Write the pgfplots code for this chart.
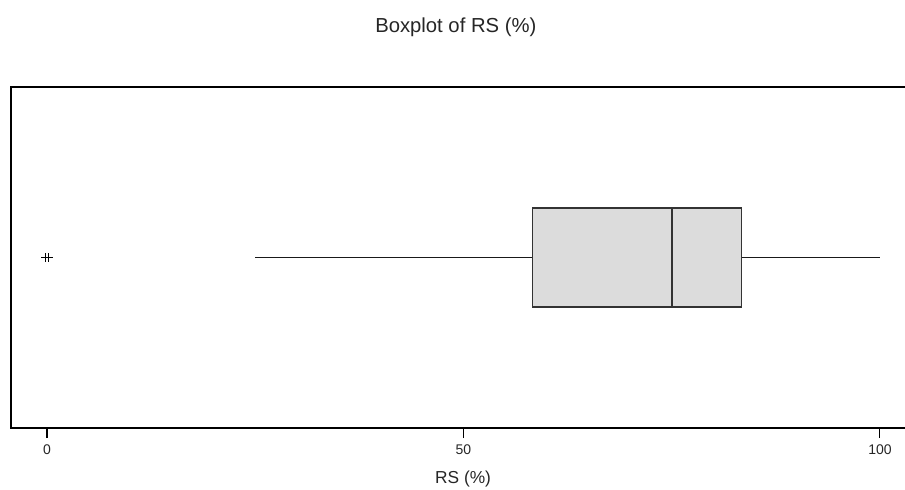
\documentclass[border=0pt]{standalone}
\usepackage{pgfplots}
\pgfplotsset{compat=1.18}
\usepgfplotslibrary{statistics}
\usepackage{fontspec}
\setmainfont{Liberation Sans}
\definecolor{boxfill}{HTML}{DCDCDC}
\definecolor{boxedge}{HTML}{333333}
\begin{document}
\begin{tikzpicture}
\useasboundingbox (0,0) rectangle (678.75pt,366.75pt);
\clip (0,0) rectangle (678.75pt,366.75pt);
\begin{axis}[
  at={(8.25pt,45.75pt)}, anchor=south west,
  scale only axis, width=676.7pt, height=255.75pt,
  xmin=-4.32, xmax=104, ymin=0, ymax=1,
  ytick=\empty,
  xtick={0,50,100},
  tick align=outside,
  xtick pos=bottom,
  major tick length=7.5pt,
  tick style={black, line width=0.8pt},
  axis line style={black, line width=1.1pt},
  /pgf/number format/assume math mode=true,
  xticklabel style={font=\fontsize{10.5}{12}\selectfont, yshift=-1.2pt, text=black!85},
  xlabel={RS (\%)},
  xlabel style={font=\fontsize{13}{15}\selectfont, at={(axis description cs:0.501,-0.150)}, anchor=center, yshift=0pt, text=black!85},
  title={Boxplot of RS (\%)},
  title style={font=\fontsize{15.2}{17}\selectfont, at={(axis description cs:0.493,1.152)}, anchor=center, yshift=0pt, text=black!85},
  boxplot/draw direction=x,
  boxplot/whisker extend=0,
]
\addplot[
  boxplot prepared={
    lower whisker=25, lower quartile=58.3, median=75,
    upper quartile=83.4, upper whisker=100,
    draw position=0.5, box extend=0.29},
  draw=boxedge, fill=boxfill, line width=1.1pt,
  boxplot/every whisker/.style={draw=black!90, line width=1.1pt},
  boxplot/every median/.style={draw=boxedge, line width=1.3pt},
] coordinates {};
\addplot[only marks, mark=+, mark size=3.2pt, black, line width=0.6pt]
  coordinates {(-0.15,0.5) (0.2,0.5)};
\end{axis}
\end{tikzpicture}
\end{document}
